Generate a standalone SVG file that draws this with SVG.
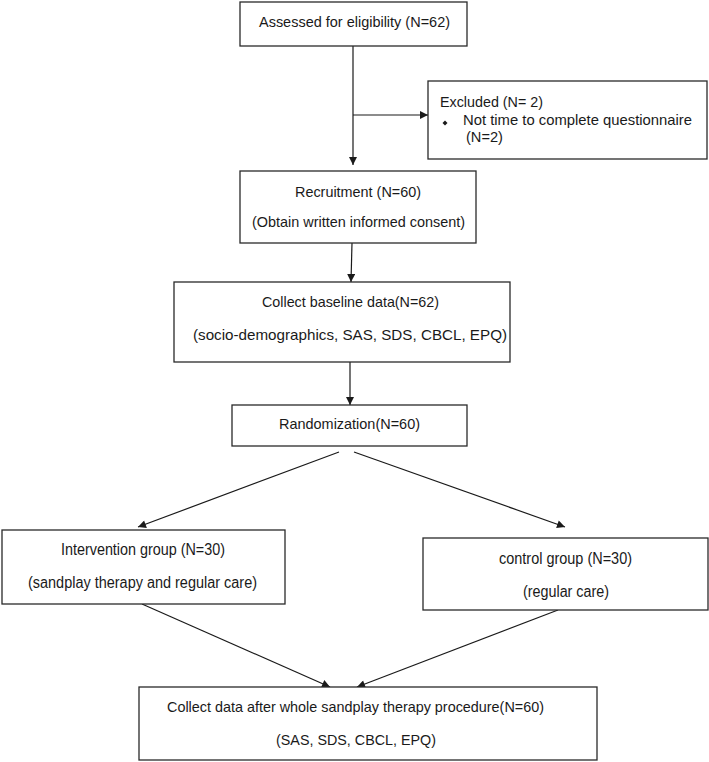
<svg xmlns="http://www.w3.org/2000/svg" width="709" height="762" viewBox="0 0 709 762">
<style>
.box{fill:#fff;stroke:#2a2a2a;stroke-width:1.3}
.t{font-family:"Liberation Sans",Arial,sans-serif;font-size:15px;fill:#1a1a1a}
.n{font-family:"Liberation Sans",Arial,sans-serif;font-size:16px;fill:#1a1a1a}
.c{fill:none;stroke:#1a1a1a;stroke-width:1.2}
</style>
<defs>
<marker id="ah" viewBox="0 0 10 10" refX="10" refY="5" markerWidth="9" markerHeight="8" markerUnits="userSpaceOnUse" orient="auto">
<path d="M0,0 L10,5 L0,10 z" fill="#1a1a1a"/>
</marker>
</defs>
<rect width="709" height="762" fill="#fff"/>
<g id="connectors">
<line class="c" x1="353" y1="46" x2="353" y2="165" marker-end="url(#ah)"/>
<line class="c" x1="353" y1="115" x2="428" y2="115" marker-end="url(#ah)"/>
<line class="c" x1="352" y1="243" x2="351" y2="282" marker-end="url(#ah)"/>
<line class="c" x1="350" y1="362" x2="350" y2="405" marker-end="url(#ah)"/>
<line class="c" x1="339" y1="452" x2="138" y2="527" marker-end="url(#ah)"/>
<line class="c" x1="354" y1="452" x2="565" y2="527" marker-end="url(#ah)"/>
<line class="c" x1="142" y1="604" x2="330" y2="687" marker-end="url(#ah)"/>
<line class="c" x1="558" y1="610" x2="357" y2="687" marker-end="url(#ah)"/>
</g>
<g id="assessed">
<rect class="box" x="240" y="2" width="227" height="44"/>
<text class="t" x="259" y="27" textLength="191" lengthAdjust="spacingAndGlyphs">Assessed for eligibility (N=62)</text>
</g>
<g id="excluded">
<rect class="box" x="428" y="81" width="279" height="78"/>
<text class="t" x="440" y="107" textLength="103" lengthAdjust="spacingAndGlyphs">Excluded (N= 2)</text>
<path d="M445,120.5 L447.5,123 L445,125.5 L442.5,123 z" fill="#1a1a1a"/>
<text class="t" x="463" y="125" textLength="229" lengthAdjust="spacingAndGlyphs">Not time to complete questionnaire</text>
<text class="t" x="466" y="142" textLength="37" lengthAdjust="spacingAndGlyphs">(N=2)</text>
</g>
<g id="recruitment">
<rect class="box" x="240" y="171" width="236" height="72"/>
<text class="t" x="295" y="197" textLength="126" lengthAdjust="spacingAndGlyphs">Recruitment (N=60)</text>
<text class="t" x="252" y="227" textLength="213" lengthAdjust="spacingAndGlyphs">(Obtain written informed consent)</text>
</g>
<g id="baseline">
<rect class="box" x="174" y="282" width="336" height="80"/>
<text class="t" x="262" y="307" textLength="177" lengthAdjust="spacingAndGlyphs">Collect baseline data(N=62)</text>
<text class="t" x="193" y="340" textLength="314" lengthAdjust="spacingAndGlyphs">(socio-demographics, SAS, SDS, CBCL, EPQ)</text>
</g>
<g id="randomization">
<rect class="box" x="232" y="405" width="235" height="41"/>
<text class="t" x="279" y="429" textLength="141" lengthAdjust="spacingAndGlyphs">Randomization(N=60)</text>
</g>
<g id="intervention">
<rect class="box" x="2" y="530" width="283" height="74"/>
<text class="n" x="61" y="555" textLength="164" lengthAdjust="spacingAndGlyphs">Intervention group (N=30)</text>
<text class="n" x="28" y="588" textLength="229" lengthAdjust="spacingAndGlyphs">(sandplay therapy and regular care)</text>
</g>
<g id="control">
<rect class="box" x="423" y="538" width="285" height="72"/>
<text class="n" x="499" y="564" textLength="133" lengthAdjust="spacingAndGlyphs">control group (N=30)</text>
<text class="n" x="523" y="597" textLength="86" lengthAdjust="spacingAndGlyphs">(regular care)</text>
</g>
<g id="followup">
<rect class="box" x="139" y="687" width="458" height="73"/>
<text class="t" x="167" y="712" textLength="377" lengthAdjust="spacingAndGlyphs">Collect data after whole sandplay therapy procedure(N=60)</text>
<text class="t" x="276" y="745" textLength="160" lengthAdjust="spacingAndGlyphs">(SAS, SDS, CBCL, EPQ)</text>
</g>
</svg>
